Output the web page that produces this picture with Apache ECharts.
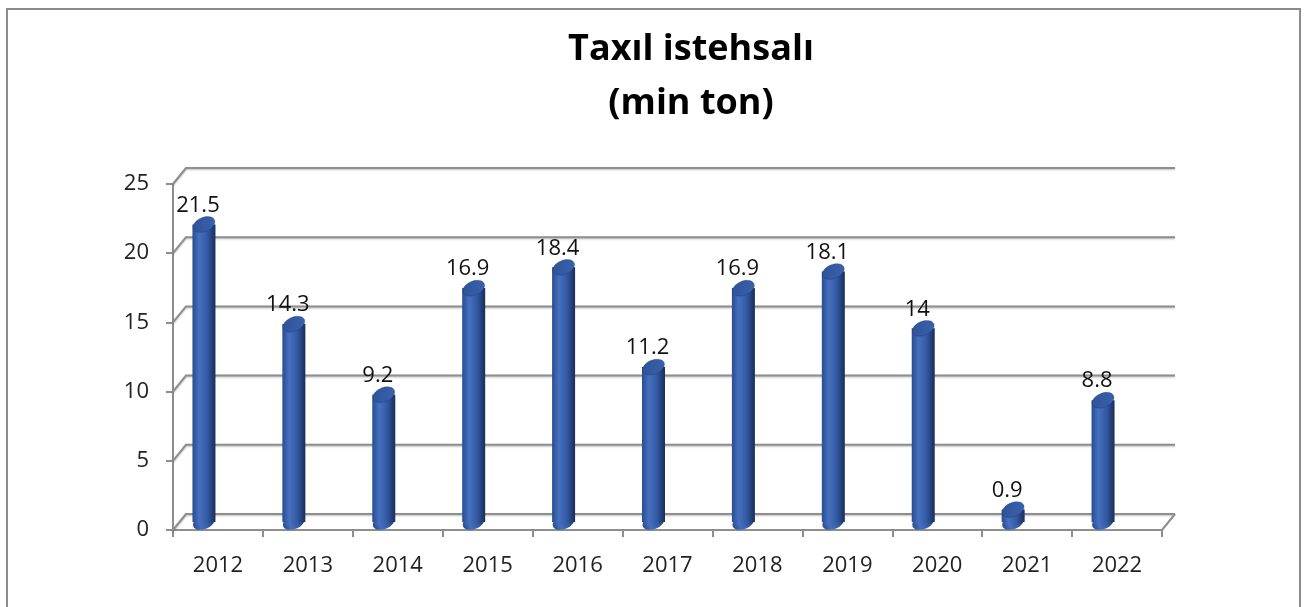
<!DOCTYPE html>
<html>
<head>
<meta charset="utf-8">
<script src="https://cdn.jsdelivr.net/npm/echarts@6/dist/echarts.min.js"></script>
<style>
  html, body { margin: 0; padding: 0; background: #fff; }
  #chart { width: 1306px; height: 607px; }
</style>
</head>
<body>
<div id="chart"></div>
<script>
const years = ['2012', '2013', '2014', '2015', '2016', '2017', '2018', '2019', '2020', '2021', '2022'];
const harvest = [21.5, 14.3, 9.2, 16.9, 18.4, 11.2, 16.9, 18.1, 14, 0.9, 8.8];
const yTicks = [0, 5, 10, 15, 20, 25];

const FONT = '"Open Sans", "Liberation Sans", sans-serif';
const GRID_CLR = '#8e8e8e';
// depth of the 3d box (back wall offset)
const DX = 13, DY = -16;

const chart = echarts.init(document.getElementById('chart'));

chart.setOption({
  animation: false,
  backgroundColor: '#fff',
  graphic: [
    {
      type: 'rect',
      shape: { x: 7, y: 9, width: 1293, height: 700 },
      style: { fill: 'none', stroke: '#8c8c8c', lineWidth: 2 },
      silent: true
    },
    {
      type: 'text',
      x: 691,
      y: 23,
      style: {
        text: 'Taxıl istehsalı\n(min ton)',
        fill: '#000',
        font: 'bold 36px ' + FONT,
        lineHeight: 54,
        align: 'center',
        verticalAlign: 'top'
      }
    }
  ],
  grid: { left: 173, right: 144, top: 184, bottom: 77 },
  xAxis: {
    type: 'category',
    data: years,
    boundaryGap: true,
    axisLine: { lineStyle: { color: GRID_CLR, width: 2 } },
    axisTick: { show: true, interval: 0, length: 7, lineStyle: { color: GRID_CLR, width: 2 } },
    axisLabel: { fontSize: 22, color: '#222', fontFamily: FONT, margin: 25, interval: 0 },
    splitLine: { show: false }
  },
  yAxis: {
    type: 'value',
    min: 0,
    max: 25,
    interval: 5,
    axisLine: { show: true, lineStyle: { color: GRID_CLR, width: 2 } },
    axisTick: { show: true, length: 7, lineStyle: { color: GRID_CLR, width: 2 } },
    axisLabel: { fontSize: 22, color: '#222', fontFamily: FONT, margin: 24 },
    splitLine: { show: false }
  },
  series: [
    {
      // side wall diagonals + back wall gridlines
      type: 'custom',
      z: 1,
      silent: true,
      data: yTicks.map(v => [0, v]),
      renderItem: function (params, api) {
        const v = api.value(1);
        const band = api.size([1, 0])[0];
        const p0 = api.coord([0, v]);
        const p1 = api.coord([years.length - 1, v]);
        const x0 = p0[0] - band / 2;
        const x1 = p1[0] + band / 2;
        const y = p0[1];
        const children = [{
          type: 'polyline',
          shape: { points: [[x0, y], [x0 + DX, y + DY], [x1 + DX, y + DY]] },
          style: { stroke: GRID_CLR, lineWidth: 2, fill: 'none', shadowBlur: 2, shadowColor: 'rgba(0,0,0,0.25)', shadowOffsetY: 1 }
        }];
        if (v === 0) {
          children.push({
            type: 'line',
            shape: { x1: x1, y1: y, x2: x1 + DX, y2: y + DY },
            style: { stroke: GRID_CLR, lineWidth: 2 }
          });
        }
        return { type: 'group', children: children };
      }
    },
    {
      // cylinders
      type: 'custom',
      z: 3,
      data: harvest.map((v, i) => [i, v]),
      renderItem: function (params, api) {
        const i = api.value(0);
        const v = api.value(1);
        const top = api.coord([i, v]);
        const base = api.coord([i, 0]);
        const cx = top[0] - 14;
        const topY = top[1] - 8;
        const botY = base[1] - 8;
        const rx = 11.5, ry = 7, rot = 0.4;
        const bodyFill = new echarts.graphic.LinearGradient(0, 0, 1, 0, [
          { offset: 0, color: '#2a4c8f' },
          { offset: 0.3, color: '#4670bf' },
          { offset: 0.65, color: '#3259a3' },
          { offset: 1, color: '#1a2d58' }
        ]);
        const topFill = new echarts.graphic.LinearGradient(0, 0, 1, 1, [
          { offset: 0, color: '#2d5296' },
          { offset: 1, color: '#3a63b0' }
        ]);
        return {
          type: 'group',
          children: [
            {
              type: 'ellipse',
              x: cx, y: botY, rotation: rot,
              shape: { cx: 0, cy: 0, rx: rx, ry: ry },
              style: { fill: bodyFill }
            },
            {
              type: 'rect',
              shape: { x: cx - rx, y: topY, width: rx * 2, height: Math.max(botY - topY, 0) },
              style: { fill: bodyFill }
            },
            {
              type: 'ellipse',
              x: cx, y: topY, rotation: rot,
              shape: { cx: 0, cy: 0, rx: rx, ry: ry },
              style: { fill: topFill, stroke: 'rgba(20,40,90,0.5)', lineWidth: 0.5 }
            },
            {
              type: 'text',
              x: cx - 6,
              y: topY - 19,
              style: {
                text: String(v),
                fill: '#111',
                font: '22px ' + FONT,
                align: 'center',
                verticalAlign: 'middle'
              }
            }
          ]
        };
      }
    }
  ]
});
</script>
</body>
</html>
